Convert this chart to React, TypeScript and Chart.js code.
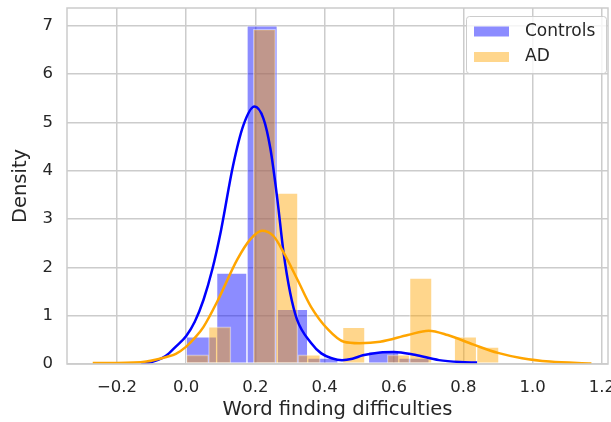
import { useEffect, useRef } from "react";
import { Chart, registerables } from "chart.js";

Chart.register(...registerables);

// Histogram bins (density scale)
const controlsBinStart = 0;
const controlsBinWidth = 0.0877;
const controlsHeights = [0.56, 1.88, 7.0, 1.13, 0.12, 0, 0.25, 0.12];

const adBinStart = 0;
const adBinWidth = 0.0645;
const adHeights = [0.19, 0.77, 0, 6.93, 3.54, 0.19, 0, 0.76, 0, 0.19, 1.78, 0, 0.56, 0.35];

// Kernel density estimates
const controlsKdeX = [-0.13, -0.1, -0.07, -0.05, -0.03, 0.0, 0.025, 0.05, 0.075, 0.1, 0.135, 0.165, 0.197, 0.223, 0.243, 0.263, 0.281, 0.3, 0.32, 0.36, 0.39, 0.42, 0.45, 0.48, 0.51, 0.56, 0.6, 0.66, 0.73, 0.79, 0.84];
const controlsKdeY = [0.0, 0.04, 0.12, 0.22, 0.36, 0.58, 0.88, 1.33, 1.95, 2.75, 4.1, 4.94, 5.33, 5.08, 4.46, 3.42, 2.31, 1.48, 0.92, 0.44, 0.22, 0.12, 0.08, 0.11, 0.18, 0.24, 0.25, 0.19, 0.08, 0.04, 0.03];

const adKdeX = [-0.27, -0.2, -0.115, -0.055, -0.03, 0.0, 0.026, 0.05, 0.09, 0.148, 0.185, 0.219, 0.252, 0.281, 0.321, 0.36, 0.41, 0.455, 0.5, 0.56, 0.64, 0.7, 0.755, 0.83, 0.9, 0.97, 1.05, 1.17];
const adKdeY = [0.02, 0.02, 0.05, 0.15, 0.21, 0.36, 0.55, 0.77, 1.3, 2.17, 2.58, 2.76, 2.65, 2.31, 1.75, 1.19, 0.71, 0.46, 0.43, 0.46, 0.6, 0.69, 0.6, 0.4, 0.23, 0.12, 0.05, 0.01];

const seriesNames = ["Controls", "AD"];
const xTitle = "Word finding difficulties";
const yTitle = "Density";

const xMin = -0.3443;
const xMax = 1.218;
const yMax = 7.37;

const BLUE = "#0000ff";
const ORANGE = "#ffa500";
const BLUE_FILL = "rgba(0,0,255,0.45)";
const ORANGE_FILL = "rgba(255,165,0,0.45)";
const GRID = "#cccccc";
const TEXT = "#262626";
const FONT = "DejaVu Sans";

const bins = (start: number, width: number, heights: number[]) =>
  heights.map((h, i) => ({ x: start + width * (i + 0.5), y: h }));

const curve = (xs: number[], ys: number[]) => xs.map((x, i) => ({ x, y: ys[i] }));

const framePlugin = {
  id: "frame",
  afterDatasetsDraw(chart: any) {
    const { ctx, chartArea } = chart;
    ctx.save();
    ctx.strokeStyle = GRID;
    ctx.lineWidth = 1.5;
    ctx.strokeRect(chartArea.left, chartArea.top, chartArea.right - chartArea.left, chartArea.bottom - chartArea.top);
    ctx.restore();
  },
};

const legendPlugin = {
  id: "boxLegend",
  afterDraw(chart: any) {
    const { ctx } = chart;
    const x = 466.5, y = 16.5, w = 140, h = 57, r = 3;
    ctx.save();
    ctx.beginPath();
    ctx.moveTo(x + r, y);
    ctx.arcTo(x + w, y, x + w, y + h, r);
    ctx.arcTo(x + w, y + h, x, y + h, r);
    ctx.arcTo(x, y + h, x, y, r);
    ctx.arcTo(x, y, x + w, y, r);
    ctx.closePath();
    ctx.fillStyle = "rgba(255,255,255,0.8)";
    ctx.fill();
    ctx.strokeStyle = GRID;
    ctx.lineWidth = 1;
    ctx.stroke();

    const fills = [BLUE_FILL, ORANGE_FILL];
    const rows = [31.5, 57];
    ctx.font = `17px "${FONT}"`;
    ctx.textBaseline = "middle";
    ctx.textAlign = "left";
    seriesNames.forEach((name, i) => {
      ctx.fillStyle = fills[i];
      ctx.fillRect(474, rows[i] - 5, 35, 10);
      ctx.fillStyle = TEXT;
      ctx.fillText(name, 525, rows[i]);
    });
    ctx.restore();
  },
};

const fmtX = (v: number) => (v < -1e-9 ? "\u2212" : "") + Math.abs(v).toFixed(1);

const noPadding = (s: any) => {
  s.paddingTop = 0;
  s.paddingBottom = 0;
  s.paddingLeft = 0;
  s.paddingRight = 0;
};

export default function App() {
  const canvasRef = useRef<HTMLCanvasElement | null>(null);

  useEffect(() => {
    const canvas = canvasRef.current;
    if (!canvas) return;

    const barCommon = {
      type: "bar" as const,
      yAxisID: "y",
      barPercentage: 1,
      categoryPercentage: 1,
      grouped: false,
      borderWidth: 1,
      borderColor: "rgba(255,255,255,0.45)",
      borderSkipped: false,
    };

    const hiddenX = {
      type: "linear" as const,
      display: false,
      min: xMin,
      max: xMax,
      offset: false,
      grid: { offset: false },
      ticks: { stepSize: 0.5, includeBounds: false },
      afterFit: noPadding,
    };

    const chart = new Chart(canvas, {
      type: "bar",
      data: {
        datasets: [
          {
            type: "line",
            label: seriesNames[1],
            data: curve(adKdeX, adKdeY),
            xAxisID: "x",
            yAxisID: "y",
            borderColor: ORANGE,
            borderWidth: 2.5,
            pointRadius: 0,
            fill: false,
            cubicInterpolationMode: "monotone",
            order: 0,
          },
          {
            type: "line",
            label: seriesNames[0],
            data: curve(controlsKdeX, controlsKdeY),
            xAxisID: "x",
            yAxisID: "y",
            borderColor: BLUE,
            borderWidth: 2.5,
            pointRadius: 0,
            fill: false,
            cubicInterpolationMode: "monotone",
            order: 1,
          },
          {
            ...barCommon,
            label: seriesNames[1],
            data: bins(adBinStart, adBinWidth, adHeights),
            xAxisID: "xa",
            backgroundColor: ORANGE_FILL,
            order: 2,
          },
          {
            ...barCommon,
            label: seriesNames[0],
            data: bins(controlsBinStart, controlsBinWidth, controlsHeights),
            xAxisID: "xc",
            backgroundColor: BLUE_FILL,
            order: 3,
          },
        ] as any,
      },
      options: {
        animation: false,
        responsive: false,
        events: [],
        layout: { padding: { left: 0, right: 3, top: 8, bottom: 0 } },
        plugins: {
          legend: { display: false },
          tooltip: { enabled: false },
        },
        scales: {
          x: {
            type: "linear",
            position: "bottom",
            min: xMin,
            max: xMax,
            offset: false,
            grid: { color: GRID, lineWidth: 1.5, drawTicks: false, offset: false },
            border: { display: false },
            ticks: {
              stepSize: 0.2,
              includeBounds: false,
              padding: 14,
              color: TEXT,
              font: { family: FONT, size: 16.5 },
              callback: (v: any) => fmtX(Number(v)),
            },
            title: {
              display: true,
              text: xTitle,
              color: TEXT,
              font: { family: FONT, size: 19.5 },
              padding: { top: 0, bottom: 0 },
            },
            afterFit: (s: any) => {
              s.height = 58;
              noPadding(s);
            },
          },
          xc: hiddenX,
          xa: hiddenX,
          y: {
            type: "linear",
            position: "left",
            min: 0,
            max: yMax,
            grid: { color: GRID, lineWidth: 1.5, drawTicks: false },
            border: { display: false },
            ticks: {
              stepSize: 1,
              includeBounds: false,
              padding: 14,
              color: TEXT,
              font: { family: FONT, size: 16.5 },
            },
            title: {
              display: true,
              text: yTitle,
              color: TEXT,
              font: { family: FONT, size: 19.5 },
              padding: { top: 9, bottom: 0 },
            },
            afterFit: (s: any) => {
              s.width = 67;
              noPadding(s);
            },
          },
        },
      } as any,
      plugins: [framePlugin, legendPlugin],
    });

    return () => chart.destroy();
  }, []);

  return (
    <div style={{ position: "absolute", left: 0, top: 0, width: 611, height: 422, background: "#ffffff" }}>
      <canvas ref={canvasRef} width={611} height={422} />
    </div>
  );
}
